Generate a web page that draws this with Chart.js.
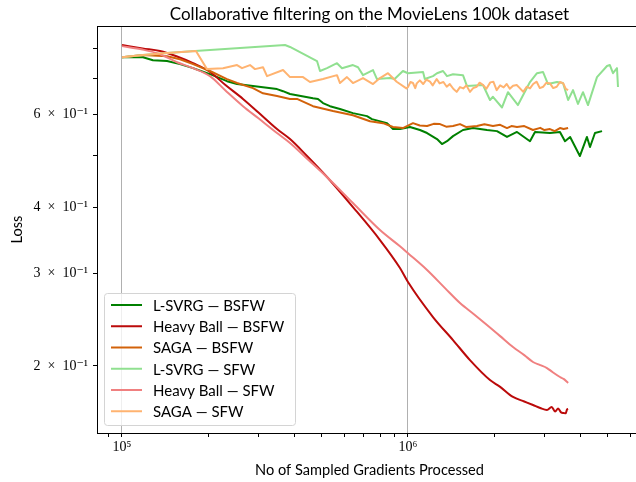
<!DOCTYPE html>
<html>
<head>
<meta charset="utf-8">
<script src="https://cdn.jsdelivr.net/npm/chart.js@4.4.1/dist/chart.umd.min.js"></script>
<style>
  html, body { margin: 0; padding: 0; background: #fff; }
  #wrap { width: 636px; height: 482px; }
</style>
</head>
<body>
<div id="wrap"><canvas id="lossChart" width="636" height="482"></canvas></div>
<script>
// Series (x = sampled gradients, y = loss)
const lsvrgBsfwX = [1.0e5, 1.184e5, 1.283e5, 1.437e5, 1.595e5, 1.772e5, 2.031e5, 2.329e5, 2.525e5, 2.871e5, 3.483e5, 3.656e5, 3.868e5, 4.654e5, 4.845e5, 5.044e5, 5.337e5, 5.784e5, 6.42e5, 7.19e5, 7.48e5, 8.446e5, 8.862e5, 9.376e5, 1.016e6, 1.101e6, 1.166e6, 1.263e6, 1.315e6, 1.369e6, 1.437e6, 1.557e6, 1.688e6, 1.889e6, 2.047e6, 2.219e6, 2.405e6, 2.67e6, 2.78e6, 3.136e6, 3.399e6, 3.54e6, 3.689e6, 3.99e6, 4.224e6, 4.33e6, 4.506e6, 4.77e6];
const lsvrgBsfwY = [0.769, 0.769, 0.759, 0.756, 0.746, 0.733, 0.714, 0.6925, 0.684, 0.678, 0.669, 0.663, 0.655, 0.643, 0.641, 0.6295, 0.621, 0.6135, 0.6025, 0.5947, 0.587, 0.5767, 0.562, 0.562, 0.567, 0.5597, 0.5524, 0.538, 0.5265, 0.533, 0.545, 0.5597, 0.5645, 0.5597, 0.557, 0.543, 0.555, 0.533, 0.555, 0.5524, 0.555, 0.533, 0.543, 0.4996, 0.543, 0.5197, 0.5524, 0.557];

const heavyBsfwX = [1.0e5, 1.18e5, 1.358e5, 1.55e5, 1.772e5, 2.031e5, 2.30e5, 2.649e5, 3.0e5, 3.483e5, 3.868e5, 4.4e5, 5.21e5, 6.42e5, 7.982e5, 9.376e5, 1.0e6, 1.223e6, 1.437e6, 1.647e6, 1.935e6, 2.1e6, 2.329e6, 2.55e6, 2.736e6, 2.9e6, 3.062e6, 3.18e6, 3.27e6, 3.35e6, 3.43e6, 3.50e6, 3.56e6, 3.60e6, 3.63e6];
const heavyBsfwY = [0.811, 0.799, 0.790, 0.772, 0.749, 0.721, 0.681, 0.641, 0.604, 0.562, 0.538, 0.502, 0.456, 0.400, 0.3464, 0.3066, 0.2884, 0.2476, 0.2239, 0.2052, 0.1881, 0.1826, 0.1747, 0.1713, 0.1687, 0.1665, 0.1651, 0.1672, 0.164, 0.1662, 0.1633, 0.1629, 0.1627, 0.1655, 0.1658];

const sagaBsfwX = [1.0e5, 1.184e5, 1.437e5, 1.595e5, 1.772e5, 2.031e5, 2.329e5, 2.525e5, 2.871e5, 3.112e5, 3.483e5, 3.868e5, 4.092e5, 4.654e5, 5.467e5, 6.42e5, 7.364e5, 8.178e5, 8.862e5, 9.6e5, 1.041e6, 1.10e6, 1.166e6, 1.23e6, 1.294e6, 1.36e6, 1.437e6, 1.52e6, 1.6e6, 1.743e6, 1.85e6, 1.982e6, 2.1e6, 2.219e6, 2.3e6, 2.405e6, 2.55e6, 2.736e6, 2.9e6, 3.0e6, 3.136e6, 3.26e6, 3.399e6, 3.5e6, 3.63e6];
const sagaBsfwY = [0.769, 0.776, 0.772, 0.762, 0.746, 0.724, 0.699, 0.687, 0.672, 0.657, 0.649, 0.641, 0.641, 0.621, 0.608, 0.597, 0.5815, 0.5767, 0.567, 0.5645, 0.5767, 0.571, 0.5695, 0.575, 0.5743, 0.568, 0.5695, 0.5743, 0.567, 0.5695, 0.574, 0.5695, 0.5725, 0.5645, 0.5695, 0.567, 0.5695, 0.5597, 0.565, 0.5597, 0.562, 0.557, 0.5645, 0.562, 0.5645];

const lsvrgSfwX = [1.0e5, 1.184e5, 1.437e5, 1.8e5, 3.715e5, 3.868e5, 4.807e5, 4.924e5, 5.21e5, 5.646e5, 5.878e5, 6.42e5, 6.687e5, 6.962e5, 7.545e5, 7.79e5, 8.651e5, 8.98e5, 9.6e5, 1.0e6, 1.129e6, 1.145e6, 1.223e6, 1.263e6, 1.326e6, 1.369e6, 1.437e6, 1.557e6, 1.608e6, 1.829e6, 1.935e6, 1.982e6, 2.132e6, 2.237e6, 2.424e6, 2.67e6, 2.825e6, 2.965e6, 3.087e6, 3.319e6, 3.483e6, 3.63e6, 3.776e6, 3.93e6, 4.092e6, 4.26e6, 4.58e6, 4.964e6, 5.08e6, 5.21e6, 5.38e6, 5.424e6];
const lsvrgSfwY = [0.769, 0.776, 0.783, 0.790, 0.811, 0.804, 0.756, 0.724, 0.733, 0.749, 0.733, 0.743, 0.736, 0.711, 0.727, 0.699, 0.702, 0.699, 0.724, 0.717, 0.721, 0.699, 0.708, 0.717, 0.724, 0.708, 0.714, 0.711, 0.678, 0.681, 0.638, 0.647, 0.6175, 0.660, 0.624, 0.690, 0.717, 0.721, 0.684, 0.690, 0.687, 0.638, 0.666, 0.627, 0.660, 0.624, 0.705, 0.740, 0.743, 0.717, 0.733, 0.675];

const heavySfwX = [1.0e5, 1.18e5, 1.358e5, 1.55e5, 1.772e5, 2.031e5, 2.30e5, 2.649e5, 3.0e5, 3.483e5, 3.868e5, 4.4e5, 5.25e5, 6.42e5, 7.982e5, 9.376e5, 1.0e6, 1.166e6, 1.35e6, 1.52e6, 1.7e6, 1.889e6, 2.1e6, 2.329e6, 2.55e6, 2.736e6, 2.9e6, 3.062e6, 3.2e6, 3.399e6, 3.5e6, 3.63e6];
const heavySfwY = [0.807, 0.795, 0.779, 0.753, 0.733, 0.708, 0.665, 0.621, 0.589, 0.5525, 0.529, 0.496, 0.454, 0.407, 0.3618, 0.337, 0.327, 0.3039, 0.2805, 0.2631, 0.2506, 0.2391, 0.2278, 0.2172, 0.2097, 0.2035, 0.2008, 0.1982, 0.1948, 0.1906, 0.189, 0.1857];

const sagaSfwX = [1.0e5, 1.184e5, 1.437e5, 1.814e5, 1.982e5, 2.255e5, 2.525e5, 2.628e5, 2.803e5, 2.917e5, 3.112e5, 3.214e5, 3.656e5, 3.868e5, 4.295e5, 4.543e5, 5.044e5, 5.646e5, 5.784e5, 6.118e5, 6.42e5, 6.962e5, 7.545e5, 7.98e5, 8.513e5, 9.13e5, 9.87e5,
    1.0e6, 1.02e6, 1.041e6, 1.06e6, 1.073e6, 1.10e6, 1.13e6, 1.16e6, 1.194e6, 1.22e6, 1.26e6, 1.29e6, 1.33e6, 1.366e6, 1.40e6, 1.44e6, 1.48e6, 1.52e6, 1.561e6, 1.60e6, 1.647e6, 1.69e6, 1.739e6, 1.78e6, 1.833e6, 1.88e6, 1.94e6, 1.988e6, 2.042e6, 2.10e6, 2.16e6, 2.214e6, 2.27e6, 2.33e6, 2.4e6, 2.46e6, 2.53e6, 2.60e6, 2.67e6, 2.74e6, 2.818e6, 2.89e6, 2.972e6, 3.05e6, 3.136e6, 3.22e6, 3.311e6, 3.40e6, 3.491e6, 3.56e6, 3.63e6];
const sagaSfwY = [0.769, 0.776, 0.783, 0.790, 0.730, 0.733, 0.743, 0.733, 0.743, 0.730, 0.736, 0.708, 0.727, 0.705, 0.705, 0.690, 0.699, 0.711, 0.687, 0.705, 0.687, 0.702, 0.684, 0.702, 0.717, 0.691, 0.671,
    0.675, 0.690, 0.687, 0.672, 0.686, 0.695, 0.684, 0.697, 0.691, 0.680, 0.699, 0.686, 0.690, 0.676, 0.684, 0.670, 0.661, 0.675, 0.671, 0.680, 0.661, 0.672, 0.676, 0.688, 0.681, 0.670, 0.689, 0.691, 0.666, 0.680, 0.674, 0.684, 0.670, 0.679, 0.681, 0.672, 0.661, 0.676, 0.671, 0.684, 0.691, 0.672, 0.676, 0.688, 0.686, 0.672, 0.676, 0.690, 0.686, 0.670, 0.666];

const seriesLabels = ['L-SVRG \u2014 BSFW', 'Heavy Ball \u2014 BSFW', 'SAGA \u2014 BSFW', 'L-SVRG \u2014 SFW', 'Heavy Ball \u2014 SFW', 'SAGA \u2014 SFW'];
// the two heavy-ball runs are smooth curves in the reference
const smoothSeries = [false, true, false, false, true, false];

// axis ticks
const xTickValues = [9e4, 1e5, 2e5, 3e5, 4e5, 5e5, 6e5, 7e5, 8e5, 9e5, 1e6, 2e6, 3e6, 4e6, 5e6, 6e6];
const xTickLabels = ['', '10\u2075', '', '', '', '', '', '', '', '', '10\u2076', '', '', '', '', ''];
const yTickValues = [0.2, 0.3, 0.4, 0.5, 0.6, 0.7, 0.8];
const yTickLabels = ['2\u2002\u00d7\u200210\u207b\u00b9', '3\u2002\u00d7\u200210\u207b\u00b9', '4\u2002\u00d7\u200210\u207b\u00b9', '', '6\u2002\u00d7\u200210\u207b\u00b9', '', ''];

const chartTitle = 'Collaborative filtering on the MovieLens 100k dataset';
const xTitle = 'No of Sampled Gradients Processed';
const yTitle = 'Loss';

const colors = ['#008000', '#bb0a0a', '#d2620a', '#90e090', '#f08080', '#ffb370'];
const SANS = 'Lato, "DejaVu Sans", sans-serif';
const SERIF = '"Liberation Serif", "DejaVu Serif", serif';

function pairs(xs, ys) {
    return xs.map((x, i) => ({ x: x, y: ys[i] }));
}

const allX = [lsvrgBsfwX, heavyBsfwX, sagaBsfwX, lsvrgSfwX, heavySfwX, sagaSfwX];
const allY = [lsvrgBsfwY, heavyBsfwY, sagaBsfwY, lsvrgSfwY, heavySfwY, sagaSfwY];

const datasets = seriesLabels.map((label, i) => ({
    label: label,
    data: pairs(allX[i], allY[i]),
    borderColor: colors[i],
    backgroundColor: colors[i],
    borderWidth: 2,
    pointRadius: 0,
    tension: 0,
    cubicInterpolationMode: smoothSeries[i] ? 'monotone' : 'default',
    fill: false,
    borderJoinStyle: 'round',
    order: 10 - i   // later series on top, like matplotlib
}));

// the axes run a few px past the right edge of the picture,
// so titles are centred on the full axes width
const AXES_OVERHANG = 6;

// titles, top spine and the boxed legend inside the axes
const decorPlugin = {
    id: 'decor',
    afterDraw(chart) {
        const { ctx, chartArea } = chart;
        const midX = (chartArea.left + chartArea.right + AXES_OVERHANG) / 2;
        ctx.save();
        ctx.fillStyle = '#000';
        ctx.textAlign = 'center';
        ctx.textBaseline = 'alphabetic';
        ctx.font = '17px ' + SANS;
        ctx.fillText(chartTitle, midX, 20);
        ctx.font = '14.6px ' + SANS;
        ctx.fillText(xTitle, midX, 475);

        ctx.strokeStyle = '#000';
        ctx.lineWidth = 1;
        ctx.beginPath();
        ctx.moveTo(chartArea.left, Math.round(chartArea.top) + 0.5);
        ctx.lineTo(chartArea.right, Math.round(chartArea.top) + 0.5);
        ctx.stroke();

        // legend
        const bx = 104.5, by = 293.5, bw = 191, bh = 132, r = 3;
        ctx.beginPath();
        ctx.moveTo(bx + r, by);
        ctx.arcTo(bx + bw, by, bx + bw, by + bh, r);
        ctx.arcTo(bx + bw, by + bh, bx, by + bh, r);
        ctx.arcTo(bx, by + bh, bx, by, r);
        ctx.arcTo(bx, by, bx + bw, by, r);
        ctx.closePath();
        ctx.fillStyle = 'rgba(255,255,255,0.8)';
        ctx.fill();
        ctx.strokeStyle = '#d4d4d4';
        ctx.stroke();

        ctx.font = '15px ' + SANS;
        ctx.textAlign = 'left';
        ctx.textBaseline = 'middle';
        chart.data.datasets.forEach((ds, i) => {
            const y = 305 + i * 21.25;
            ctx.strokeStyle = ds.borderColor;
            ctx.lineWidth = 2;
            ctx.beginPath();
            ctx.moveTo(111, y);
            ctx.lineTo(142, y);
            ctx.stroke();
            ctx.fillStyle = '#000';
            ctx.fillText(ds.label, 153, y + 1);
        });
        ctx.restore();
    }
};

new Chart(document.getElementById('lossChart'), {
    type: 'line',
    data: { datasets: datasets },
    plugins: [decorPlugin],
    options: {
        responsive: false,
        animation: false,
        devicePixelRatio: 1,
        layout: { padding: { top: 26, right: 0, left: 0, bottom: 0 } },
        plugins: {
            legend: { display: false },
            title: { display: false },
            tooltip: { enabled: false }
        },
        scales: {
            x: {
                type: 'logarithmic',
                position: 'bottom',
                min: 81770,
                max: 6.27e6,
                afterBuildTicks: s => { s.ticks = xTickValues.map(v => ({ value: v })); },
                afterFit: s => { s.height = 49; },
                ticks: {
                    autoSkip: false,
                    maxRotation: 0,
                    padding: 2,
                    color: '#000',
                    font: { family: SERIF, size: 14 },
                    callback: (v, i) => xTickLabels[i]
                },
                grid: {
                    drawOnChartArea: true,
                    color: c => (c.index !== undefined && xTickLabels[c.index]) ? '#b0b0b0' : 'rgba(0,0,0,0)',
                    tickColor: '#000',
                    tickLength: 4,
                    lineWidth: 1
                },
                border: { color: '#000', width: 1 },
                title: { display: false }
            },
            y: {
                type: 'logarithmic',
                min: 0.1493,
                max: 0.881,
                afterBuildTicks: s => { s.ticks = yTickValues.map(v => ({ value: v })); },
                afterFit: s => { s.width = 97; },
                ticks: {
                    autoSkip: false,
                    padding: 5,
                    color: '#000',
                    font: { family: SERIF, size: 14 },
                    callback: (v, i) => yTickLabels[i]
                },
                grid: {
                    drawOnChartArea: false,
                    tickColor: '#000',
                    tickLength: 4
                },
                border: { color: '#000', width: 1 },
                title: {
                    display: true,
                    text: yTitle,
                    color: '#000',
                    font: { family: SANS, size: 14.6 },
                    padding: { top: 9, bottom: 0 }
                }
            }
        }
    }
});
</script>
</body>
</html>
